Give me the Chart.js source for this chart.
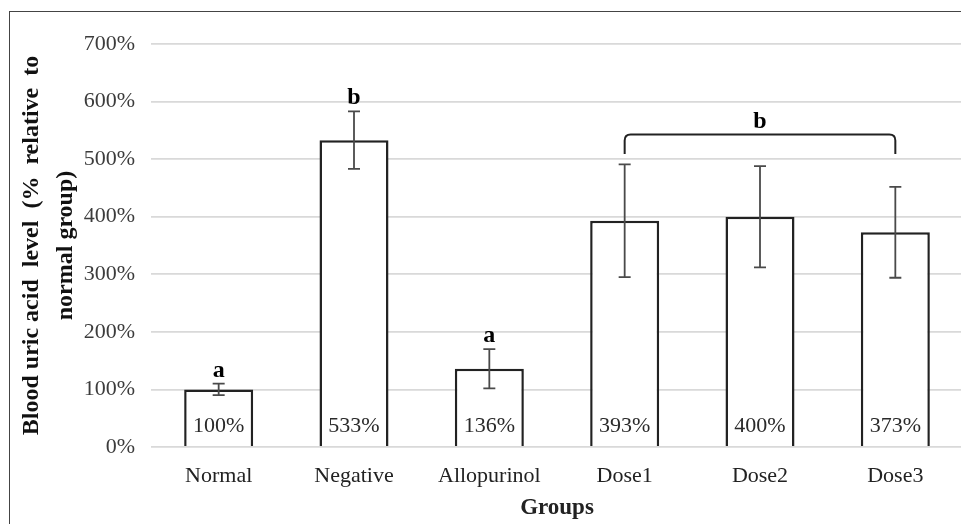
<!DOCTYPE html>
<html>
<head>
<meta charset="utf-8">
<script src="https://cdn.jsdelivr.net/npm/chart.js@4.4.1/dist/chart.umd.min.js"></script>
<style>
  html, body { margin: 0; padding: 0; background: #fff; overflow: hidden; }
  #frame { position: absolute; left: 9px; top: 11px; width: 1000px; height: 600px; border-left: 1.5px solid #444; border-top: 1.5px solid #444; }
  #wrap { position: absolute; left: 0; top: 0; }
</style>
</head>
<body>
<div id="frame"></div>
<div id="wrap"><canvas id="uricChart" width="975" height="524"></canvas></div>
<script>
const groups = ['Normal', 'Negative', 'Allopurinol', 'Dose1', 'Dose2', 'Dose3'];
const uricLevels = [100, 533, 136, 393, 400, 373];
const errorValues = [10, 50, 34, 98, 88, 79];
const valueLabels = ['100%', '533%', '136%', '393%', '400%', '373%'];
const groupLetters = ['a', 'b', 'a', '', '', ''];
const yTicks = [0, 100, 200, 300, 400, 500, 600, 700];

// bracket over the dose groups
const bracketFrom = 'Dose1';
const bracketTo = 'Dose3';
const bracketTop = 543;
const bracketFoot = 509;
const bracketLetter = 'b';

const serif = "'Liberation Serif', 'Times New Roman', serif";

const annotate = {
    id: 'annotate',
    afterDatasetsDraw(chart) {
        const ctx = chart.ctx;
        const x = chart.scales.x;
        const y = chart.scales.y;
        const meta = chart.getDatasetMeta(0);
        ctx.save();

        meta.data.forEach((bar, i) => {
            const cx = bar.x;
            const top = y.getPixelForValue(uricLevels[i] + errorValues[i]);
            const bot = y.getPixelForValue(uricLevels[i] - errorValues[i]);

            // error bar
            ctx.strokeStyle = '#4a4a4a';
            ctx.lineWidth = 1.8;
            ctx.beginPath();
            ctx.moveTo(cx, top); ctx.lineTo(cx, bot);
            ctx.moveTo(cx - 6, top); ctx.lineTo(cx + 6, top);
            ctx.moveTo(cx - 6, bot); ctx.lineTo(cx + 6, bot);
            ctx.stroke();

            // value inside bar
            ctx.fillStyle = '#2a2a2a';
            ctx.font = '22px ' + serif;
            ctx.textAlign = 'center';
            ctx.textBaseline = 'alphabetic';
            ctx.fillText(valueLabels[i], cx, y.getPixelForValue(0) - 15);

            // significance letter
            if (groupLetters[i]) {
                ctx.fillStyle = '#000';
                ctx.font = 'bold 24px ' + serif;
                ctx.fillText(groupLetters[i], cx, top - 7);
            }
        });

        // bracket
        const x1 = x.getPixelForValue(groups.indexOf(bracketFrom));
        const x2 = x.getPixelForValue(groups.indexOf(bracketTo));
        const yt = y.getPixelForValue(bracketTop);
        const yf = y.getPixelForValue(bracketFoot);
        const r = 6;
        ctx.strokeStyle = '#222';
        ctx.lineWidth = 2;
        ctx.beginPath();
        ctx.moveTo(x1, yf);
        ctx.lineTo(x1, yt + r);
        ctx.quadraticCurveTo(x1, yt, x1 + r, yt);
        ctx.lineTo(x2 - r, yt);
        ctx.quadraticCurveTo(x2, yt, x2, yt + r);
        ctx.lineTo(x2, yf);
        ctx.stroke();

        ctx.fillStyle = '#000';
        ctx.font = 'bold 24px ' + serif;
        ctx.textAlign = 'center';
        ctx.fillText(bracketLetter, (x1 + x2) / 2, yt - 6);

        ctx.restore();
    }
};

new Chart(document.getElementById('uricChart'), {
    type: 'bar',
    data: {
        labels: groups,
        datasets: [{
            data: uricLevels,
            backgroundColor: '#fff',
            borderColor: '#222',
            borderWidth: 2.5,
            categoryPercentage: 1,
            barPercentage: 0.51,
        }],
    },
    options: {
        responsive: false,
        animation: false,
        events: [],
        layout: { padding: { left: 0, top: 44, right: 12, bottom: 0 } },
        plugins: {
            legend: { display: false },
            tooltip: { enabled: false },
        },
        scales: {
            x: {
                grid: { display: false },
                border: { display: false },
                ticks: {
                    color: '#222',
                    font: { family: serif, size: 22 },
                    padding: 8,
                    maxRotation: 0,
                },
                title: {
                    display: true,
                    text: 'Groups',
                    color: '#222',
                    font: { family: serif, size: 23, weight: 'bold', lineHeight: 1.2 },
                    padding: { top: 0, bottom: 2 },
                },
                afterFit: s => { s.height = 77; },
            },
            y: {
                min: 0,
                max: 700,
                afterBuildTicks: s => { s.ticks = yTicks.map(v => ({ value: v })); },
                grid: { color: '#d9d9d9', lineWidth: 1.8, drawTicks: false },
                border: { display: false },
                ticks: {
                    color: '#3c3c3c',
                    font: { family: serif, size: 22 },
                    padding: 16,
                    callback: v => v + '%',
                },
                title: {
                    display: true,
                    text: ['Blood uric acid  level  (%  relative  to', 'normal group)'],
                    color: '#111',
                    font: { family: serif, size: 24, weight: 'bold', lineHeight: 1.4 },
                    padding: { top: 15, bottom: 0 },
                },
                afterFit: s => { s.width = 151; },
            },
        },
    },
    plugins: [annotate],
});
</script>
</body>
</html>
